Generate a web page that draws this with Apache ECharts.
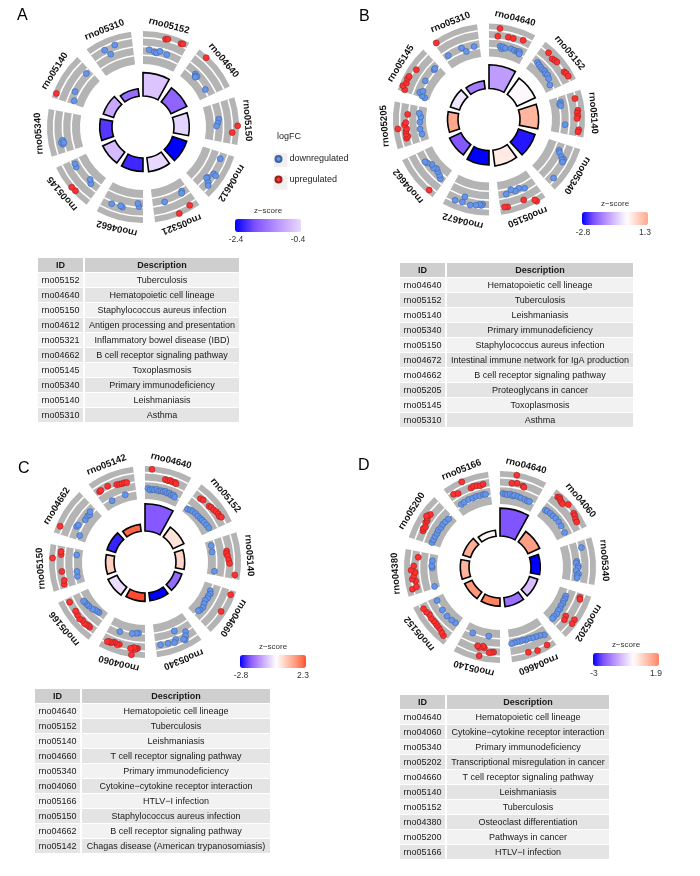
<!DOCTYPE html>
<html>
<head>
<meta charset="utf-8">
<script src="https://cdn.jsdelivr.net/npm/echarts@6/dist/echarts.min.js"></script>
<style>
  html, body { margin: 0; padding: 0; background: #fff; }
  #chart { width: 700px; height: 876px; }
</style>
</head>
<body>
<div id="chart"></div>
<script>
// ---- panel A ----
var termsA = ['rno05152', 'rno04640', 'rno05150', 'rno04612', 'rno05321', 'rno04662', 'rno05145', 'rno05340', 'rno05140', 'rno05310'];
var descA = ['Tuberculosis', 'Hematopoietic cell lineage', 'Staphylococcus aureus infection', 'Antigen processing and presentation',
  'Inflammatory bowel disease (IBD)', 'B cell receptor signaling pathway', 'Toxoplasmosis', 'Primary immunodeficiency', 'Leishmaniasis', 'Asthma'];
var sigA = [7.8, 5.8, 5.1, 5.0, 4.7, 4.5, 4.5, 4.1, 3.6, 2.5];   // -log10(adj p), inner bars
var zA = [-0.6, -1.6, -0.45, -2.4, -0.4, -2.1, -0.7, -2.0, -0.9, -1.5];
var zLabA = ['-2.4', '-0.4'];
// [term, position in sector, logFC]
var upA = [[0, 0.5, 2.3], [0, 0.55, 2.4], [0, 0.85, 2.5], [0, 0.89, 2.6], [1, 0.22, 3.0], [2, 0.6, 3.2], [2, 0.75, 2.0],
  [4, 0.18, 2.4], [4, 0.46, 3.0], [6, 0.37, 2.8], [6, 0.48, 2.9], [8, 0.11, 2.8]];
var downA = [[0, 0.16, -0.7], [0, 0.3, -1.1], [0, 0.36, -1.2], [0, 0.44, -0.7], [0, 0.63, -1.0],
  [1, 0.3, -1.4], [1, 0.34, -1.7], [1, 0.38, -1.5], [1, 0.36, -1.9], [1, 0.8, -1.8],
  [2, 0.42, -1.0], [2, 0.52, -1.3], [2, 0.6, -1.6],
  [3, 0.15, 0.65], [3, 0.54, 0.95], [3, 0.55, 1.6], [3, 0.69, 0.3], [3, 0.72, 0.2], [3, 0.78, 1.15], [3, 0.83, 1.6],
  [4, 0.17, -1.3], [4, 0.2, -0.9], [4, 0.69, -0.6],
  [5, 0.1, -0.2], [5, 0.13, -0.9], [5, 0.5, 0.5], [5, 0.55, 0.3], [5, 0.77, 0.5],
  [6, 0.23, -0.8], [6, 0.32, -1.4], [6, 0.8, -0.6], [6, 0.89, -0.7],
  [7, 0.2, 0.3], [7, 0.25, 0.6], [7, 0.3, 0.2], [7, 0.24, 0.0],
  [8, 0.1, -1.6], [8, 0.33, -0.9], [8, 0.88, -0.6],
  [9, 0.33, 1.2], [9, 0.42, -0.2], [9, 0.59, 1.4]];

// ---- panel B ----
var termsB = ['rno04640', 'rno05152', 'rno05140', 'rno05340', 'rno05150', 'rno04672', 'rno04662', 'rno05205', 'rno05145', 'rno05310'];
var descB = ['Hematopoietic cell lineage', 'Tuberculosis', 'Leishmaniasis', 'Primary immunodeficiency', 'Staphylococcus aureus infection',
  'Intestinal immune network for IgA production', 'B cell receptor signaling pathway', 'Proteoglycans in cancer', 'Toxoplasmosis', 'Asthma'];
var sigB = [7.9, 6.7, 6.2, 5.8, 5.3, 4.8, 4.2, 3.5, 3.2, 2.7];
var zB = [-1.2, 0.0, 1.1, -2.6, 0.3, -2.8, -2.0, 1.3, -0.3, -1.6];
var zLabB = ['-2.8', '1.3'];
var upB = [[0, 0.21, 0.7], [0, 0.24, 2.5], [0, 0.46, 0.9], [0, 0.58, 0.9], [0, 0.81, 1.3],
  [1, 0.2, 2.0], [1, 0.35, 1.6], [1, 0.42, 1.8], [1, 0.48, 1.9], [1, 0.75, 1.9], [1, 0.8, 2.1], [1, 0.88, 2.2],
  [2, 0.15, 1.8], [2, 0.42, 2.0], [2, 0.48, 1.8], [2, 0.55, 1.9], [2, 0.6, 1.7], [2, 0.85, 2.2], [2, 0.9, 2.1],
  [4, 0.2, 3.2], [4, 0.22, 2.7], [4, 0.44, 1.6], [4, 0.83, 2.0], [4, 0.9, 1.9],
  [6, 0.15, 2.7],
  [7, 0.18, 0.9], [7, 0.22, 0.5], [7, 0.28, 0.8], [7, 0.35, 0.7], [7, 0.4, 0.5], [7, 0.42, 2.5], [7, 0.5, 0.9], [7, 0.55, 0.6], [7, 0.75, 0.2],
  [8, 0.05, 2.0], [8, 0.12, 2.7], [8, 0.2, 2.2], [8, 0.3, 2.4], [8, 0.36, 2.3], [8, 0.57, 1.7],
  [9, 0.05, 2.8]];
var downB = [[0, 0.3, -1.5], [0, 0.35, -2.0], [0, 0.38, -1.5], [0, 0.45, -1.7], [0, 0.6, -1.5], [0, 0.7, -1.6], [0, 0.78, -1.6], [0, 0.82, -1.7], [0, 0.84, -1.4], [0, 0.86, -1.9],
  [1, 0.15, -1.3], [1, 0.22, -1.5], [1, 0.3, -1.6], [1, 0.38, -1.7], [1, 0.45, -1.5], [1, 0.52, -1.8], [1, 0.58, -1.6], [1, 0.68, -1.9], [1, 0.85, -2.4],
  [2, 0.15, -1.6], [2, 0.2, -1.9], [2, 0.25, -1.7], [2, 0.76, -1.0],
  [3, 0.2, -0.9], [3, 0.25, -0.6], [3, 0.32, 0.2], [3, 0.35, 0.9], [3, 0.38, 0.6], [3, 0.42, 1.0], [3, 0.84, 1.5],
  [4, 0.3, -0.7], [4, 0.44, -1.3], [4, 0.55, -1.0], [4, 0.65, -1.6], [4, 0.8, -0.9],
  [5, 0.15, 1.0], [5, 0.18, 1.3], [5, 0.22, 1.1], [5, 0.3, 1.4], [5, 0.43, 1.6], [5, 0.6, 0.1], [5, 0.62, 1.4], [5, 0.79, 1.6],
  [6, 0.12, -0.9], [6, 0.2, -1.4], [6, 0.3, -1.7], [6, 0.38, -2.0], [6, 0.45, -1.6], [6, 0.55, -1.8], [6, 0.65, -1.2], [6, 0.71, -0.9],
  [7, 0.2, -2.7], [7, 0.35, -2.5], [7, 0.55, -2.6], [7, 0.7, -2.8], [7, 0.8, -2.4],
  [8, 0.02, -2.9], [8, 0.05, -2.2], [8, 0.12, -1.4], [8, 0.18, -2.0], [8, 0.46, -1.4], [8, 0.84, -1.5], [8, 0.88, -1.4],
  [9, 0.12, -1.1], [9, 0.52, -0.9], [9, 0.61, -2.0], [9, 0.85, -1.4]];

// ---- panel C ----
var termsC = ['rno04640', 'rno05152', 'rno05140', 'rno04660', 'rno05340', 'rno04060', 'rno05166', 'rno05150', 'rno04662', 'rno05142'];
var descC = ['Hematopoietic cell lineage', 'Tuberculosis', 'Leishmaniasis', 'T cell receptor signaling pathway', 'Primary immunodeficiency',
  'Cytokine\u2212cytokine receptor interaction', 'HTLV\u2212I infection', 'Staphylococcus aureus infection', 'B cell receptor signaling pathway',
  'Chagas disease (American trypanosomiasis)'];
var sigC = [9.1, 4.0, 2.9, 2.6, 2.7, 2.8, 3.3, 2.8, 3.0, 2.3];
var zC = [-2.0, 0.4, 0.6, -1.8, -2.8, 2.3, -0.4, 0.7, -2.5, 2.1];
var zLabC = ['-2.8', '2.3'];
var upC = [[0, 0.15, 2.8], [0, 0.48, 1.0], [0, 0.55, 0.9], [0, 0.6, 1.1], [0, 0.66, 0.9], [0, 0.72, 1.0], [0, 0.75, 0.8],
  [1, 0.18, 0.8], [1, 0.25, 1.0], [1, 0.45, 1.0], [1, 0.5, 1.2], [1, 0.58, 1.3], [1, 0.65, 1.5], [1, 0.72, 1.6], [1, 0.78, 1.5], [1, 0.82, 1.8],
  [2, 0.36, 0.4], [2, 0.42, 0.3], [2, 0.48, 0.5], [2, 0.58, 0.7], [2, 0.66, 0.9], [2, 0.91, 2.3],
  [3, 0.1, 2.5], [3, 0.52, 2.3],
  [5, 0.17, 1.4], [5, 0.2, 1.5], [5, 0.23, 1.7], [5, 0.26, 1.3], [5, 0.29, 3.0], [5, 0.33, 1.6], [5, 0.6, 1.3], [5, 0.65, 1.5],
  [5, 0.72, 1.2], [5, 0.76, 1.4], [5, 0.8, 1.6], [5, 0.84, 1.5], [5, 0.88, 1.7],
  [6, 0.15, 1.1], [6, 0.2, 1.0], [6, 0.25, 1.2], [6, 0.3, 1.3], [6, 0.38, 1.1], [6, 0.45, 1.4], [6, 0.55, 1.2], [6, 0.65, 1.0], [6, 0.9, 1.1],
  [7, 0.09, 0.7], [7, 0.18, 0.5], [7, 0.4, 0.7], [7, 0.71, 2.7], [7, 0.8, 0.8], [7, 0.87, 0.9],
  [8, 0.17, 2.6],
  [9, 0.11, 0.7], [9, 0.15, 0.8], [9, 0.34, 0.9], [9, 0.55, 0.4], [9, 0.62, 0.3], [9, 0.68, 0.25], [9, 0.74, 0.3], [9, 0.8, 0.2]];
var downC = [[0, 0.08, -1.6], [0, 0.14, -1.9], [0, 0.2, -1.7], [0, 0.26, -1.8], [0, 0.32, -1.6], [0, 0.38, -1.9], [0, 0.44, -1.7],
  [0, 0.5, -1.8], [0, 0.56, -1.6], [0, 0.62, -1.9], [0, 0.68, -1.7], [0, 0.74, -2.0], [0, 0.8, -1.8], [0, 0.85, -2.1],
  [1, 0.1, -2.9], [1, 0.18, -2.6], [1, 0.25, -2.5], [1, 0.35, -2.4], [1, 0.45, -2.4], [1, 0.55, -2.3], [1, 0.62, -2.2], [1, 0.7, -2.1], [1, 0.8, -2.0], [1, 0.9, -1.9],
  [2, 0.14, -2.8], [2, 0.33, -2.9], [2, 0.89, -2.4],
  [3, 0.2, -2.1], [3, 0.28, -1.8], [3, 0.35, -2.0], [3, 0.42, -1.9], [3, 0.5, -2.1], [3, 0.6, -1.9], [3, 0.7, -1.6], [3, 0.8, -1.7], [3, 0.85, -1.9],
  [4, 0.2, 0.0], [4, 0.25, 0.8], [4, 0.3, 1.6], [4, 0.33, 1.3], [4, 0.45, -1.3], [4, 0.5, 0.6], [4, 0.55, 1.2], [4, 0.7, 0.9], [4, 0.88, 0.8],
  [5, 0.18, -2.1], [5, 0.24, -2.0], [5, 0.35, -1.8], [5, 0.69, -1.5],
  [6, 0.22, -2.8], [6, 0.28, -2.7], [6, 0.35, -2.6], [6, 0.42, -2.3], [6, 0.55, -2.1], [6, 0.62, -2.0], [6, 0.7, -1.9], [6, 0.75, -1.8],
  [7, 0.21, -2.6], [7, 0.35, -2.7], [7, 0.83, -2.7],
  [8, 0.14, -2.3], [8, 0.33, -0.8], [8, 0.38, -1.0], [8, 0.6, -1.7], [8, 0.72, -1.6], [8, 0.78, -1.8], [8, 0.85, -1.4],
  [9, 0.27, -2.5], [9, 0.68, -2.4]];

// ---- panel D ----
var termsD = ['rno04640', 'rno04060', 'rno05340', 'rno05202', 'rno04660', 'rno05140', 'rno05152', 'rno04380', 'rno05200', 'rno05166'];
var descD = ['Hematopoietic cell lineage', 'Cytokine\u2212cytokine receptor interaction', 'Primary immunodeficiency', 'Transcriptional misregulation in cancer',
  'T cell receptor signaling pathway', 'Leishmaniasis', 'Tuberculosis', 'Osteoclast differentiation', 'Pathways in cancer', 'HTLV\u2212I infection'];
var sigD = [9.3, 4.3, 3.1, 2.9, 3.0, 2.7, 2.7, 2.9, 2.7, 2.0];
var zD = [-2.2, 1.5, -3.0, -0.85, -1.85, 1.9, 1.6, 1.2, 1.3, 0.1];
var zLabD = ['-3', '1.9'];
var upD = [[0, 0.28, 0.9], [0, 0.36, 2.9], [0, 0.4, 1.1], [0, 0.55, 0.8], [0, 0.58, 0.6],
  [1, 0.12, 2.3], [1, 0.16, 2.5], [1, 0.2, 2.2], [1, 0.25, 2.0], [1, 0.3, 1.9], [1, 0.4, 2.7], [1, 0.62, 2.4], [1, 0.68, 2.3], [1, 0.75, 2.0], [1, 0.82, 1.9],
  [3, 0.1, 1.1], [3, 0.14, 1.3], [3, 0.6, 2.4], [3, 0.65, 0.3], [3, 0.7, 2.5], [3, 0.74, 0.6],
  [4, 0.17, 2.4], [4, 0.41, 2.5], [4, 0.61, 2.1],
  [5, 0.15, 1.1], [5, 0.2, 1.2], [5, 0.25, 1.3], [5, 0.38, 0.4], [5, 0.42, 0.1], [5, 0.46, 2.4], [5, 0.5, 0.6], [5, 0.55, 0.3],
  [6, 0.12, 1.9], [6, 0.2, 1.6], [6, 0.3, 1.3], [6, 0.38, 1.2], [6, 0.45, 1.1], [6, 0.52, 1.1], [6, 0.6, 1.2], [6, 0.7, 1.0], [6, 0.78, 1.3], [6, 0.88, 1.5],
  [7, 0.13, 2.2], [7, 0.16, 1.2], [7, 0.3, 1.1], [7, 0.35, 1.8], [7, 0.42, 1.4], [7, 0.5, 1.0], [7, 0.55, 1.9], [7, 0.65, 1.3], [7, 0.86, 0.4],
  [8, 0.25, 1.0], [8, 0.3, 1.2], [8, 0.35, 0.9], [8, 0.45, 1.4], [8, 0.5, 1.3], [8, 0.55, 1.6], [8, 0.62, 1.7], [8, 0.66, 1.5], [8, 0.58, 2.0],
  [9, 0.12, 1.3], [9, 0.22, 0.9], [9, 0.41, 2.9], [9, 0.55, 0.8], [9, 0.62, 1.0], [9, 0.7, 0.9], [9, 0.78, 0.7], [9, 0.85, 0.9]];
var downD = [[0, 0.08, -1.6], [0, 0.15, -1.7], [0, 0.2, -1.8], [0, 0.28, -1.6], [0, 0.35, -1.9], [0, 0.4, -1.7], [0, 0.5, -1.8], [0, 0.58, -1.9], [0, 0.7, -2.0], [0, 0.78, -2.1], [0, 0.84, -2.0],
  [1, 0.09, -1.8], [1, 0.15, -1.7], [1, 0.25, -1.6], [1, 0.35, -1.6], [1, 0.45, -1.5], [1, 0.57, -1.5], [1, 0.7, -1.6], [1, 0.9, -1.7],
  [2, 0.16, 0.7], [2, 0.48, -0.8], [2, 0.52, -1.0], [2, 0.6, -0.5], [2, 0.65, -0.6], [2, 0.72, -1.0], [2, 0.8, -0.4], [2, 0.85, -0.7], [2, 0.9, -0.6],
  [3, 0.2, -2.0], [3, 0.28, -1.9], [3, 0.35, -2.0], [3, 0.42, -1.8], [3, 0.5, -1.9], [3, 0.58, -1.7], [3, 0.65, -1.8], [3, 0.75, -1.6], [3, 0.85, -1.7], [3, 0.92, -1.6],
  [4, 0.1, 0.1], [4, 0.2, -0.3], [4, 0.3, -0.5], [4, 0.4, -0.6], [4, 0.5, -0.8], [4, 0.58, -0.7], [4, 0.65, -0.9], [4, 0.72, -0.8], [4, 0.8, -0.9], [4, 0.88, -0.8], [4, 0.95, -0.7],
  [5, 0.32, -2.4], [5, 0.78, -2.1],
  [6, 0.09, -2.1], [6, 0.22, -2.0], [6, 0.39, -1.9], [6, 0.6, -2.0], [6, 0.9, -2.1],
  [7, 0.05, -2.8], [7, 0.6, -2.9], [7, 0.66, -2.8], [7, 0.81, -2.9],
  [8, 0.06, -1.9], [8, 0.15, -2.0], [8, 0.25, -2.0], [8, 0.35, -2.1], [8, 0.45, -2.0], [8, 0.55, -2.2], [8, 0.65, -2.1], [8, 0.75, -2.2], [8, 0.87, -2.3],
  [9, 0.15, -1.6], [9, 0.25, -1.5], [9, 0.38, -1.4], [9, 0.5, -1.5], [9, 0.6, -1.4], [9, 0.7, -1.5], [9, 0.8, -1.4], [9, 0.86, -1.5]];

// logFC track (outer ring) and bar track (inner ring)
var LFC_MIN = -4, LFC_MAX = 3.5;
var LFC_LINES = [-2, 0, 2];
var SIG_MAX = 10;
var SPAN = 0.8;            // share of each term slot that is drawn
var FONT = '"Liberation Sans", Arial, sans-serif';
var BAR_LEN = 66, BAR_W = 13;

var panels = [
  { key: 'A', terms: termsA, desc: descA, sig: sigA, z: zA, zLab: zLabA, up: upA, down: downA,
    center: [143, 127], letter: [17, 16], bar: [235, 219], table: { x: 38, y: 258, idW: 45, descW: 154 } },
  { key: 'B', terms: termsB, desc: descB, sig: sigB, z: zB, zLab: zLabB, up: upB, down: downB,
    center: [489, 119.5], letter: [359, 17], bar: [582, 212], table: { x: 400, y: 263, idW: 45, descW: 186 } },
  { key: 'C', terms: termsC, desc: descC, sig: sigC, z: zC, zLab: zLabC, up: upC, down: downC,
    center: [145, 562], letter: [18, 469], bar: [240, 655], table: { x: 35, y: 689, idW: 45, descW: 188 } },
  { key: 'D', terms: termsD, desc: descD, sig: sigD, z: zD, zLab: zLabD, up: upD, down: downD,
    center: [500, 567], letter: [358, 466], bar: [593, 653], table: { x: 400, y: 695, idW: 45, descW: 162 } }
];

// ggplot-like blue-white-red (Lab) ramps
var BLUE_RAMP = ['#0000FF', '#7D51FF', '#B38BFF', '#DCC5FF', '#FFFFFF'];
var RED_RAMP = ['#FFFFFF', '#FFCFBF', '#FFA184', '#FF6846', '#FF0000'];
function hexRgb(h) {
  return [parseInt(h.slice(1, 3), 16), parseInt(h.slice(3, 5), 16), parseInt(h.slice(5, 7), 16)];
}
function ramp(stops, t) {
  var x = Math.max(0, Math.min(1, t)) * (stops.length - 1);
  var k = Math.min(Math.floor(x), stops.length - 2), f = x - k;
  var a = hexRgb(stops[k]), b = hexRgb(stops[k + 1]);
  return 'rgb(' + [0, 1, 2].map(function (j) { return Math.round(a[j] + (b[j] - a[j]) * f); }).join(',') + ')';
}
function zColor(z, lim) {
  return z < 0 ? ramp(BLUE_RAMP, 1 + z / lim) : ramp(RED_RAMP, z / lim);
}
function zStops(min, max) {
  var lim = Math.max(-min, max), out = [];
  for (var k = 0; k <= 20; k++) out.push(zColor(min + (max - min) * k / 20, lim));
  return out;
}

function radiusAt(api, cs, v, a) {
  var p = api.coord([v, a]);
  return Math.sqrt((p[0] - cs.cx) * (p[0] - cs.cx) + (p[1] - cs.cy) * (p[1] - cs.cy));
}
function slotAngles(api, cs, v, i) {
  var p0 = api.coord([v, i]), p1 = api.coord([v, i + SPAN]);
  var a0 = Math.atan2(p0[1] - cs.cy, p0[0] - cs.cx);
  var a1 = Math.atan2(p1[1] - cs.cy, p1[0] - cs.cx);
  if (a1 < a0) a1 += Math.PI * 2;
  return [a0, a1];
}

var polar = [], angleAxis = [], radiusAxis = [], series = [], visualMap = [];
panels.forEach(function (p, k) {
  // outer polar (logFC) = k, inner polar (bars) = k + 4
  polar[k] = { center: p.center, radius: [63, 96] };
  polar[k + 4] = { center: p.center, radius: [31, 61] };
});
polar.forEach(function (pp, k) {
  angleAxis.push({ polarIndex: k, type: 'value', min: 0, max: 10, startAngle: 90, clockwise: true, show: false });
  radiusAxis.push(k < 4
    ? { polarIndex: k, type: 'value', min: LFC_MIN, max: LFC_MAX, show: false }
    : { polarIndex: k, type: 'value', min: 0, max: SIG_MAX, show: false });
});

panels.forEach(function (p, k) {
  // grey logFC track, white guide lines and term labels
  series.push({
    type: 'custom', coordinateSystem: 'polar', polarIndex: k, silent: true, z: 1,
    data: p.terms.map(function (t, i) { return [LFC_MAX, i]; }),
    renderItem: function (params, api) {
      var cs = params.coordSys, i = api.value(1);
      var ang = slotAngles(api, cs, LFC_MIN, i);
      var r0 = radiusAt(api, cs, LFC_MIN, i), r1 = radiusAt(api, cs, LFC_MAX, i);
      var kids = [{
        type: 'sector',
        shape: { cx: cs.cx, cy: cs.cy, r0: r0, r: r1, startAngle: ang[0], endAngle: ang[1], clockwise: true },
        style: { fill: '#b4b4b4' }
      }];
      LFC_LINES.forEach(function (v) {
        kids.push({
          type: 'arc',
          shape: { cx: cs.cx, cy: cs.cy, r: radiusAt(api, cs, v, i), startAngle: ang[0], endAngle: ang[1], clockwise: true },
          style: { stroke: '#ffffff', lineWidth: 1.6, fill: 'none' }
        });
      });
      var mid = (ang[0] + ang[1]) / 2, lr = r1 + 8.5;
      kids.push({
        type: 'text',
        x: cs.cx + lr * Math.cos(mid), y: cs.cy + lr * Math.sin(mid),
        rotation: -(mid + Math.PI / 2),
        style: { text: p.terms[params.dataIndex], fontSize: 9.5, fontWeight: 'bold', fontFamily: FONT,
                 fill: '#111', align: 'center', verticalAlign: 'middle' }
      });
      return { type: 'group', children: kids };
    }
  });
  series.push({
    type: 'scatter', name: 'downregulated', coordinateSystem: 'polar', polarIndex: k, silent: true, z: 3,
    symbolSize: 6, itemStyle: { color: '#6495ED', borderColor: '#41619c', borderWidth: 0.6, opacity: 1 },
    data: p.down.map(function (d) { return [d[2], d[0] + d[1] * SPAN]; })
  });
  series.push({
    type: 'scatter', name: 'upregulated', coordinateSystem: 'polar', polarIndex: k, silent: true, z: 3,
    symbolSize: 6, itemStyle: { color: '#FF3030', borderColor: '#9a2020', borderWidth: 0.6, opacity: 1 },
    data: p.up.map(function (d) { return [d[2], d[0] + d[1] * SPAN]; })
  });
  // inner significance bars coloured by z-score
  series.push({
    type: 'custom', coordinateSystem: 'polar', polarIndex: k + 4, silent: true, z: 2,
    data: p.sig.map(function (v, i) { return [v, i, p.z[i]]; }),
    renderItem: function (params, api) {
      var cs = params.coordSys, i = api.value(1);
      var ang = slotAngles(api, cs, 0, i);
      return {
        type: 'sector',
        shape: { cx: cs.cx, cy: cs.cy, r0: radiusAt(api, cs, 0, i), r: radiusAt(api, cs, api.value(0), i),
                 startAngle: ang[0], endAngle: ang[1], clockwise: true },
        style: { fill: api.visual('color'), stroke: '#000', lineWidth: 1.6 }
      };
    }
  });
  var zmin = Math.min.apply(null, p.z), zmax = Math.max.apply(null, p.z);
  visualMap.push({
    type: 'continuous', min: zmin, max: zmax, dimension: 2, seriesIndex: series.length - 1,
    orient: 'horizontal', left: p.bar[0], top: p.bar[1], itemWidth: BAR_W, itemHeight: BAR_LEN,
    calculable: false, hoverLink: false, padding: 0, inRange: { color: zStops(zmin, zmax) }
  });
});

// panel letters, colour-bar titles/labels, tables
var graphics = [];
function txt(x, y, s, opt) {
  var st = { text: s, fontSize: 9, fontFamily: FONT, fill: '#1a1a1a', align: 'center', verticalAlign: 'middle' };
  for (var key in opt) st[key] = opt[key];
  return { type: 'text', x: x, y: y, silent: true, style: st };
}
panels.forEach(function (p) {
  graphics.push(txt(p.letter[0], p.letter[1], p.key, { fontSize: 16, align: 'left', fill: '#000' }));
  var bx = p.bar[0], by = p.bar[1];
  graphics.push(txt(bx + BAR_LEN / 2, by - 8, 'z\u2212score', { fontSize: 8, fill: '#333' }));
  graphics.push(txt(bx + 1, by + BAR_W + 8, p.zLab[0], { fontSize: 8.5, fill: '#333' }));
  graphics.push(txt(bx + BAR_LEN - 3, by + BAR_W + 8, p.zLab[1], { fontSize: 8.5, fill: '#333' }));

  var t = p.table, dx = t.x + t.idW + 2;
  graphics.push({ type: 'rect', silent: true, shape: { x: t.x, y: t.y, width: t.idW, height: 14 }, style: { fill: '#cfcfcf' } });
  graphics.push({ type: 'rect', silent: true, shape: { x: dx, y: t.y, width: t.descW, height: 14 }, style: { fill: '#cfcfcf' } });
  graphics.push(txt(t.x + t.idW / 2, t.y + 7.5, 'ID', { fontWeight: 'bold' }));
  graphics.push(txt(dx + t.descW / 2, t.y + 7.5, 'Description', { fontWeight: 'bold' }));
  p.terms.forEach(function (term, j) {
    var ry = t.y + 15 + 15 * j, bg = j % 2 === 0 ? '#f2f2f2' : '#e4e4e4';
    graphics.push({ type: 'rect', silent: true, shape: { x: t.x, y: ry, width: t.idW, height: 14 }, style: { fill: bg } });
    graphics.push({ type: 'rect', silent: true, shape: { x: dx, y: ry, width: t.descW, height: 14 }, style: { fill: bg } });
    graphics.push(txt(t.x + t.idW / 2, ry + 7.5, term));
    graphics.push(txt(dx + t.descW / 2, ry + 7.5, p.desc[j]));
  });
});
// logFC legend title and ggplot-style key backgrounds
graphics.push(txt(277, 137, 'logFC', { align: 'left', fill: '#222' }));
[160, 182.7].forEach(function (ky) {
  graphics.push({ type: 'rect', silent: true, shape: { x: 273.5, y: ky - 7, width: 14, height: 14 }, style: { fill: '#f0f0f0' } });
});

var chart = echarts.init(document.getElementById('chart'), null, { renderer: 'canvas' });
chart.setOption({
  animation: false,
  backgroundColor: '#ffffff',
  polar: polar,
  angleAxis: angleAxis,
  radiusAxis: radiusAxis,
  visualMap: visualMap,
  legend: {
    data: ['downregulated', 'upregulated'], orient: 'vertical', left: 274.5, top: 154.5,
    itemWidth: 12, itemHeight: 6, itemGap: 11.5, icon: 'circle', selectedMode: false, padding: 0,
    textStyle: { fontSize: 9, color: '#222', fontFamily: FONT }
  },
  series: series,
  graphic: { elements: graphics }
});
</script>
</body>
</html>
